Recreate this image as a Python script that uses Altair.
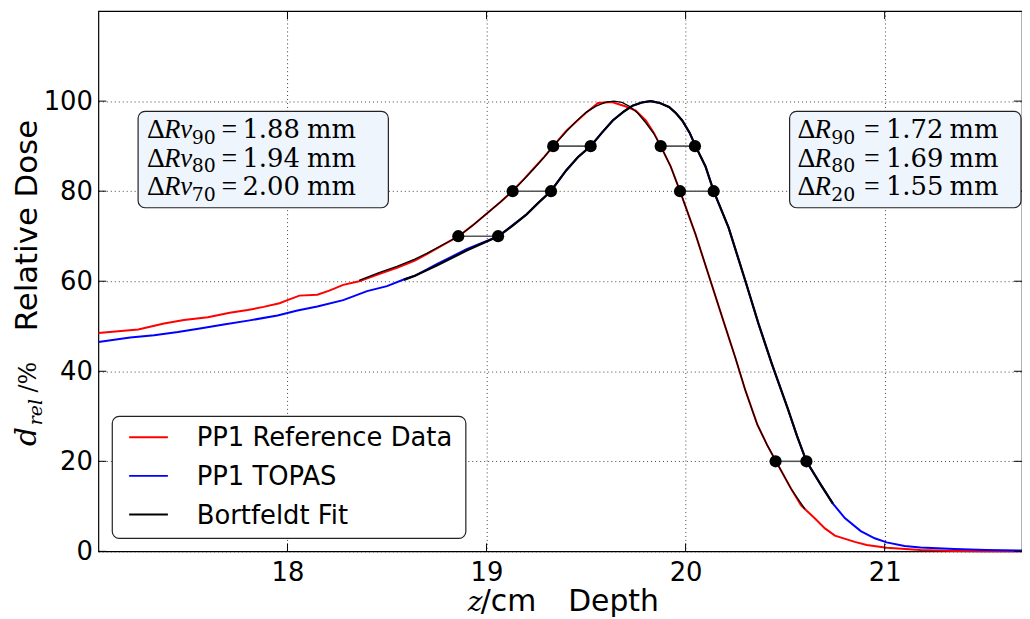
import altair as alt
import pandas as pd

# ---------------- data ----------------
ref_z = [17.05, 17.25, 17.38, 17.48, 17.60, 17.71, 17.80, 17.88, 17.96, 18.00, 18.06, 18.15, 18.21,
         18.28, 18.36, 18.46, 18.55, 18.64, 18.70, 18.78, 18.86, 18.93, 19.00, 19.07, 19.13, 19.19,
         19.24, 19.29, 19.335, 19.40, 19.45, 19.50, 19.56, 19.63, 19.70, 19.75, 19.80, 19.84, 19.875,
         19.925, 19.972, 20.05, 20.13, 20.20, 20.25, 20.30, 20.36, 20.41, 20.454, 20.53, 20.58, 20.65,
         20.70, 20.75, 20.85, 20.91, 21.01, 21.18, 21.35, 21.50, 21.69]
ref_d = [48.5, 49.3, 50.6, 51.4, 52.0, 53.0, 53.6, 54.3, 55.1, 55.8, 56.8, 57.0, 57.9,
         59.2, 60.0, 61.6, 63.0, 64.6, 66.0, 68.0, 70.0, 72.4, 75.0, 77.6, 80.0, 82.8,
         85.2, 87.6, 90.0, 93.4, 95.4, 97.4, 99.6, 99.8, 98.8, 97.9, 95.7, 93.0, 90.0,
         85.5, 80.0, 70.4, 59.4, 49.8, 43.0, 35.8, 28.2, 23.6, 20.0, 13.9, 10.2, 7.3,
         5.1, 3.5, 2.1, 1.4, 0.8, 0.3, 0.1, 0.05, 0.0]

topas_z = [17.05, 17.21, 17.33, 17.45, 17.56, 17.68, 17.81, 17.95, 18.05, 18.15, 18.28, 18.40, 18.50,
           18.59, 18.64, 18.75, 18.90, 19.06, 19.13, 19.20, 19.26, 19.323, 19.40, 19.46, 19.523,
           19.58, 19.634, 19.69, 19.734, 19.78, 19.825, 19.87, 19.917, 19.95, 19.983, 20.02, 20.05,
           20.10, 20.141, 20.216, 20.30, 20.366, 20.432, 20.515, 20.56, 20.607, 20.682, 20.74, 20.80,
           20.88, 20.95, 21.01, 21.10, 21.18, 21.35, 21.51, 21.69]
topas_d = [46.5, 47.5, 48.0, 48.7, 49.5, 50.4, 51.3, 52.4, 53.5, 54.4, 55.8, 57.8, 58.9,
           60.5, 61.2, 63.8, 67.1, 70.0, 72.4, 74.8, 77.4, 80.0, 84.6, 87.6, 90.0,
           93.0, 95.7, 97.7, 99.0, 99.7, 100.0, 99.6, 98.7, 97.4, 95.7, 93.0, 90.0,
           85.5, 80.0, 71.9, 60.1, 50.6, 41.8, 31.5, 25.6, 20.0, 14.6, 10.6, 7.4,
           4.5, 2.9, 2.0, 1.2, 0.85, 0.5, 0.3, 0.2]

fit_ref_z = [18.36, 18.46, 18.55, 18.64, 18.70, 18.78, 18.86, 18.93, 19.00, 19.07, 19.13, 19.19,
             19.24, 19.29, 19.335, 19.40, 19.45, 19.50, 19.55, 19.60, 19.64, 19.68, 19.72, 19.76,
             19.80, 19.84, 19.875, 19.925, 19.972, 20.05, 20.13, 20.20, 20.25, 20.30, 20.36,
             20.41, 20.454, 20.53, 20.60]
fit_ref_d = [60.2, 61.9, 63.3, 64.9, 66.2, 68.1, 70.0, 72.4, 75.0, 77.6, 80.0, 82.7,
             85.1, 87.6, 90.0, 93.2, 95.5, 97.5, 98.9, 99.8, 100.0, 99.7, 98.8, 97.3,
             95.2, 92.8, 90.0, 85.5, 80.0, 70.4, 59.4, 49.8, 43.0, 35.8, 28.2,
             23.6, 20.0, 13.9, 9.4]

fit_topas_z = [18.585, 18.64, 18.75, 18.90, 19.06, 19.13, 19.20, 19.26, 19.323, 19.40, 19.46, 19.523,
               19.58, 19.634, 19.69, 19.734, 19.78, 19.825, 19.87, 19.917, 19.95, 19.983, 20.02, 20.05,
               20.10, 20.141, 20.216, 20.30, 20.366, 20.432, 20.515, 20.56, 20.607, 20.682, 20.74]
fit_topas_d = [60.3, 61.2, 63.5, 66.8, 70.0, 72.3, 74.8, 77.4, 80.0, 84.6, 87.6, 90.0,
               93.0, 95.7, 97.7, 99.0, 99.7, 100.0, 99.6, 98.7, 97.4, 95.7, 93.0, 90.0,
               85.5, 80.0, 71.9, 60.1, 50.6, 41.8, 31.5, 25.6, 20.0, 14.6, 10.6]

# range markers (proximal / distal levels)
levels = [70, 80, 90, 90, 80, 20]
ref_level_z = [18.858, 19.131, 19.335, 19.875, 19.972, 20.452]
topas_level_z = [19.058, 19.324, 19.523, 20.047, 20.141, 20.607]

x_ticks = [18, 19, 20, 21]
y_ticks = [0, 20, 40, 60, 80, 100]

legend_labels = ["PP1 Reference Data", "PP1 TOPAS", "Bortfeldt Fit"]
legend_colors = ["#ff0000", "#0000ff", "#000000"]

left_subs = ["90", "80", "70"]
left_vals = ["1.88", "1.94", "2.00"]
right_subs = ["90", "80", "20"]
right_vals = ["1.72", "1.69", "1.55"]

# ---------------- chart ----------------
W, H = 930, 544
xscale = alt.Scale(domain=[17.05, 21.69], nice=False, zero=False)
yscale = alt.Scale(domain=[0, 120], nice=False, zero=False)
grid_kw = dict(grid=True, gridColor="black", gridDash=[1, 3], gridOpacity=0.75, gridWidth=1,
               ticks=False, domain=False, labelFont="DejaVu Sans", labelFontSize=26,
               labelColor="black", title=None, format="d")
X = alt.X("z:Q", scale=xscale, axis=alt.Axis(values=x_ticks, labelPadding=8, **grid_kw))
Y = alt.Y("d:Q", scale=yscale, axis=alt.Axis(values=y_ticks, labelPadding=6, **grid_kw))

one = pd.DataFrame({"k": [0]})


def line(zs, ds, color, width):
    df = pd.DataFrame({"z": zs, "d": ds})
    return alt.Chart(df).mark_line(color=color, strokeWidth=width, interpolate="linear").encode(x=X, y=Y)


def txt(s, x, y, size, font="DejaVu Sans", style="normal", align="left", baseline="alphabetic", angle=0):
    kw = dict(text=s, font=font, fontSize=size, fontStyle=style, align=align, baseline=baseline,
              color="black")
    if angle:
        kw["angle"] = angle
    return alt.Chart(one).mark_text(**kw).encode(x=alt.value(x), y=alt.value(y))


def box(x1, y1, x2, y2, fill):
    return alt.Chart(one).mark_rect(fill=fill, stroke="#222222", strokeWidth=1.2, cornerRadius=7).encode(
        x=alt.value(x1), x2=alt.value(x2), y=alt.value(y1), y2=alt.value(y2))


layers = []
layers.append(line(ref_z, ref_d, "#ff0000", 2))
layers.append(line(topas_z, topas_d, "#0000ff", 2))
layers.append(line(fit_ref_z, fit_ref_d, "#000000", 1.3))
layers.append(line(fit_topas_z, fit_topas_d, "#000000", 2.2))

lev = pd.DataFrame({"z": ref_level_z, "z2": topas_level_z, "d": levels})
layers.append(alt.Chart(lev).mark_rule(color="#555555", strokeWidth=1.6).encode(
    x=X, x2="z2:Q", y=Y))
pts = pd.DataFrame({"z": ref_level_z + topas_level_z, "d": levels + levels})
layers.append(alt.Chart(pts).mark_circle(size=150, color="black", opacity=1).encode(x=X, y=Y))

# inward tick marks on all four sides
xt = pd.DataFrame({"z": x_ticks})
yt = pd.DataFrame({"d": y_ticks})
layers.append(alt.Chart(xt).mark_rule(color="black", strokeWidth=1).encode(x=X, y=alt.value(H), y2=alt.value(H - 8)))
layers.append(alt.Chart(xt).mark_rule(color="black", strokeWidth=1).encode(x=X, y=alt.value(0), y2=alt.value(8)))
layers.append(alt.Chart(yt).mark_rule(color="black", strokeWidth=1).encode(y=Y, x=alt.value(0), x2=alt.value(8)))
layers.append(alt.Chart(yt).mark_rule(color="black", strokeWidth=1).encode(y=Y, x=alt.value(W), x2=alt.value(W - 8)))

# annotation boxes
layers.append(box(40, 101, 292, 198, "#eef5fc"))
layers.append(box(696, 101, 929, 198, "#eef5fc"))
base_y = [128, 156.5, 185]
for i in range(3):
    by = base_y[i]
    # left box
    layers.append(txt("Δ", 49, by, 28, font="Liberation Serif"))
    layers.append(txt("Rv", 66, by, 27, font="Liberation Serif", style="italic"))
    layers.append(txt(left_subs[i], 94, by + 6, 19, font="DejaVu Serif"))
    layers.append(txt("=", 124, by, 28, font="Liberation Serif"))
    layers.append(txt(left_vals[i], 145, by, 26, font="DejaVu Serif"))
    layers.append(txt("mm", 210, by, 26, font="DejaVu Serif"))
    # right box
    layers.append(txt("Δ", 704, by, 28, font="Liberation Serif"))
    layers.append(txt("R", 721, by, 27, font="Liberation Serif", style="italic"))
    layers.append(txt(right_subs[i], 738, by + 6, 19, font="DejaVu Serif"))
    layers.append(txt("=", 771, by, 28, font="Liberation Serif"))
    layers.append(txt(right_vals[i], 793, by, 26, font="DejaVu Serif"))
    layers.append(txt("mm", 857, by, 26, font="DejaVu Serif"))

# legend
layers.append(box(14, 408, 370, 531, "#ffffff"))
leg_y = [429, 468, 507]
for i in range(3):
    layers.append(alt.Chart(one).mark_rule(color=legend_colors[i], strokeWidth=2).encode(
        x=alt.value(31), x2=alt.value(70), y=alt.value(leg_y[i])))
    layers.append(txt(legend_labels[i], 99, leg_y[i] + 9, 26))

# axis titles
layers.append(txt("Relative Dose", -62, 216, 31, align="center", angle=270))
layers.append(txt("d", -63, 438, 30, font="DejaVu Serif", style="italic", angle=270))
layers.append(txt("rel", -57, 417, 19, font="DejaVu Serif", style="italic", angle=270))
layers.append(txt("/%", -63, 384, 24, font="DejaVu Serif", angle=270))
layers.append(txt("z", 372, 604, 28, font="DejaVu Serif", style="italic"))
layers.append(txt("/cm", 385, 604, 30))
layers.append(txt("Depth", 473, 604, 30))

chart = alt.layer(*layers).properties(
    width=W, height=H,
    autosize=alt.AutoSizeParams(type="none"),
    padding={"left": 91, "right": 0, "top": 1, "bottom": 66},
).configure_view(stroke="black", strokeWidth=1.2)

chart.save("out.html", embed_options={"renderer": "svg", "actions": False})
